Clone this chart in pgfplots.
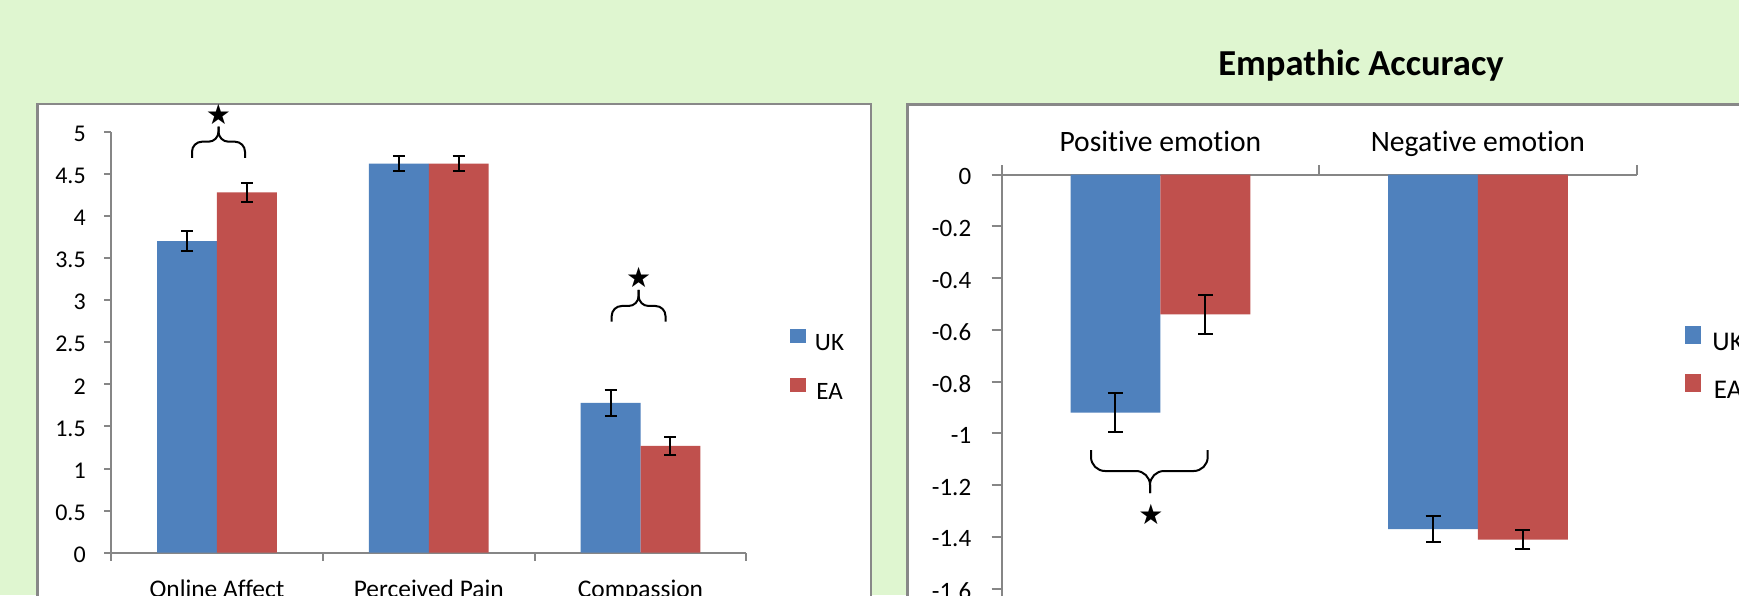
\documentclass[border=0pt]{standalone}
\usepackage{fontspec}
\setmainfont{Carlito}[Ligatures={TeX,NoCommon}]
\newfontfamily\djv{DejaVu Sans}
\usepackage{pgfplots}
\pgfplotsset{compat=1.18}
\definecolor{bg}{HTML}{DFF6D0}
\definecolor{ukblue}{HTML}{4F81BD}
\definecolor{eared}{HTML}{C0504D}
\definecolor{axgray}{HTML}{868686}
\definecolor{boxgray}{HTML}{888888}
\pgfplotsset{
  excel/.style={
    scale only axis,
    axis line style={-, axgray, line width=1pt},
    x axis line style={-}, y axis line style={-},
    tick align=outside,
    major x tick style={draw=none},
    minor x tick style={axgray, line width=1pt},
    ytick style={axgray, line width=1pt},
    ticklabel style={font=\fontsize{12}{14}\selectfont, text=black},
    ybar, bar width=0.283,
  },
  ebar/.style={error bars/.cd, y dir=both, y explicit,
    error bar style={draw=black, solid, line width=1pt},
    error mark options={draw=black, solid, rotate=90, mark size=#1, line width=1pt}},
}
\begin{document}
\begin{tikzpicture}
\path[use as bounding box] (0pt,0pt) rectangle (869.5pt,297.5pt);
\begin{scope}
\clip (0pt,0pt) rectangle (869.5pt,297.5pt);
\begin{scope}[x=0.5pt,y=0.5pt]
\fill[bg] (0,0) rectangle (1739,595);
\draw[boxgray, line width=1.2pt, fill=white] (37.6,-30) rectangle (871,491);
\draw[boxgray, line width=1.2pt, fill=white] (907.4,-30) rectangle (1800,490.6);
\end{scope}

\begin{axis}[excel,
  at={(55.55pt,21.15pt)}, anchor=south west,
  width=317.65pt, height=210.5pt,
  xmin=-0.5, xmax=2.5, ymin=0, ymax=5,
  axis x line*=bottom, axis y line*=left,
  xtick={0,1,2}, xticklabels={Online Affect, Perceived Pain, Compassion},
  minor xtick={-0.5,0.5,1.5,2.5},
  minor tick length=4pt, major tick length=3.5pt,
  ytick={0,0.5,1,1.5,2,2.5,3,3.5,4,4.5,5},
  yticklabels={0,0.5,1,1.5,2,2.5,3,3.5,4,4.5,5},
  xticklabel style={anchor=north, inner sep=0pt, yshift=-10pt, font=\fontsize{12.7}{15}\selectfont},
  yticklabel style={anchor=east, inner sep=0pt, xshift=-9pt, yshift=-1pt},
  legend image code/.code={\fill[#1] (0pt,0.5pt) rectangle (8pt,7.5pt);},
  legend style={draw=none, fill=none, at={(1.0686,0.444)}, anchor=west,
    inner sep=0pt, outer sep=0pt, row sep=12pt,
    nodes={inner sep=0pt, font=\fontsize{12.5}{14}\selectfont},
    /tikz/every odd column/.append style={column sep=4.5pt}},
]
\addplot[ybar, bar shift=-0.1415, fill=ukblue, draw=none, ebar=3pt]
  coordinates {(0,3.70) +- (0,0.12) (1,4.62) +- (0,0.09) (2,1.78) +- (0,0.155)};
\addplot[ybar, bar shift=0.1415, fill=eared, draw=none, ebar=3pt]
  coordinates {(0,4.28) +- (0,0.11) (1,4.62) +- (0,0.09) (2,1.27) +- (0,0.105)};
\legend{UK,EA}
\end{axis}

\begin{axis}[excel,
  at={(500.8pt,-22.75pt)}, anchor=south west,
  width=317.55pt, height=233pt,
  xmin=-0.5, xmax=1.5, ymin=-1.8, ymax=0,
  axis x line*=top, axis y line*=left,
  xtick={0,1}, xticklabels={Positive emotion, Negative emotion},
  minor xtick={-0.5,0.5,1.5},
  minor tick length=4.5pt, major tick length=5pt,
  ytick={0,-0.2,-0.4,-0.6,-0.8,-1,-1.2,-1.4,-1.6,-1.8},
  yticklabels={0,-0.2,-0.4,-0.6,-0.8,-1,-1.2,-1.4,-1.6,-1.8},
  xticklabel style={anchor=base, inner sep=0pt, yshift=6.7pt, font=\fontsize{14.8}{17}\selectfont},
  yticklabel style={anchor=east, inner sep=0pt, xshift=-10pt, yshift=-1pt, font=\fontsize{12.5}{14}\selectfont},
  legend image code/.code={\fill[#1] (0pt,-0.5pt) rectangle (8pt,8.5pt);},
  legend style={draw=none, fill=none, at={(1.0768,0.594)}, anchor=west,
    inner sep=0pt, outer sep=0pt, row sep=10.2pt,
    nodes={inner sep=0pt, font=\fontsize{13.5}{15}\selectfont},
    /tikz/every odd column/.append style={column sep=5.5pt}},
]
\addplot[ybar, bar shift=-0.1415, fill=ukblue, draw=none, ebar=3.75pt]
  coordinates {(0,-0.92) +- (0,0.075) (1,-1.37) +- (0,0.05)};
\addplot[ybar, bar shift=0.1415, fill=eared, draw=none, ebar=3.75pt]
  coordinates {(0,-0.54) +- (0,0.076) (1,-1.41) +- (0,0.037)};
\legend{UK,EA}
\end{axis}

\begin{scope}[x=0.5pt,y=0.5pt]
\node[anchor=base, font=\fontsize{18.3}{22}\selectfont\bfseries] at (1361,519) {Empathic Accuracy};
\draw[line width=1pt, rounded corners=5] (192,437) -- (192,453.3) -- (218.5,453.3) -- (218.5,468.3);
\draw[line width=1pt, rounded corners=5] (245,437) -- (245,453.3) -- (218.5,453.3) -- (218.5,468.3);
\node[inner sep=0pt, font=\djv\fontsize{14}{14}\selectfont] at (218.5,481) {★};
\draw[line width=1pt, rounded corners=5] (611.7,273.3) -- (611.7,289) -- (638.6,289) -- (638.6,305);
\draw[line width=1pt, rounded corners=5] (665.5,273.3) -- (665.5,289) -- (638.6,289) -- (638.6,305);
\node[inner sep=0pt, font=\djv\fontsize{14}{14}\selectfont] at (638.6,317.3) {★};
\draw[line width=1pt, rounded corners=7] (1091,145) -- (1091,124) -- (1150,124) -- (1150,102);
\draw[line width=1pt, rounded corners=7] (1207.7,145) -- (1207.7,124) -- (1150,124) -- (1150,102);
\node[inner sep=0pt, font=\djv\fontsize{14}{14}\selectfont] at (1151,80.7) {★};
\end{scope}
\end{scope}
\end{tikzpicture}
\end{document}
